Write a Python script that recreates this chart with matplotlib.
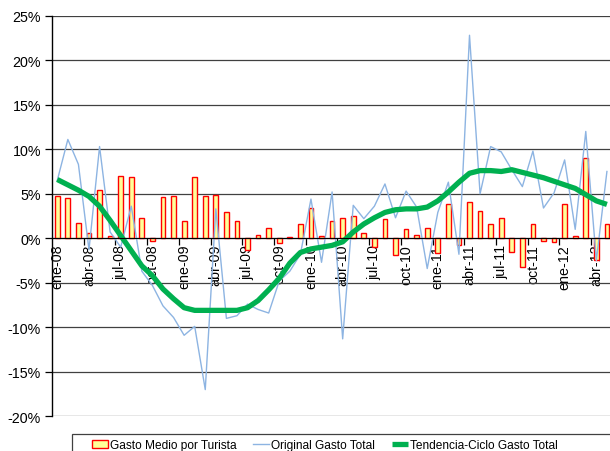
import matplotlib.pyplot as plt
import numpy as np
from matplotlib.patches import Rectangle
from matplotlib.ticker import FixedLocator, FuncFormatter

plt.rcParams['font.family'] = ['Liberation Sans', 'DejaVu Sans']

months = ['ene', 'feb', 'mar', 'abr', 'may', 'jun', 'jul', 'ago', 'sep', 'oct', 'nov', 'dic']
periods = [f"{m}-{y:02d}" for y in range(8, 13) for m in months][:53]

# Gasto Medio por Turista (%)
gasto_medio = [4.8, 4.5, 1.7, 0.6, 5.4, 0.3, 7.0, 6.9, 2.3, -0.3,
               4.6, 4.7, 1.9, 6.9, 4.8, 4.9, 3.0, 1.9, -1.3, 0.4,
               1.2, -0.5, 0.1, 1.6, 3.4, 0.2, 1.9, 2.3, 2.5, 0.6,
               -1.0, 2.2, -1.9, 1.0, 0.4, 1.1, -1.7, 3.9, -0.8, 4.1,
               3.1, 1.6, 2.3, -1.6, -3.2, 1.6, -0.3, -0.4, 3.8, 0.2,
               9.0, -2.4, 1.6]

# Original Gasto Total (%)
original = [6.5, 11.1, 8.3, -1.3, 10.3, 0.7, -1.0, 3.6, -3.7, -5.3,
            -7.6, -8.9, -10.9, -9.9, -17.0, 3.3, -9.0, -8.7, -7.4, -8.0,
            -8.4, -4.8, -3.7, -1.8, 4.4, -2.7, 5.2, -11.3, 3.7, 2.2,
            3.6, 6.1, 2.3, 5.3, 3.5, -3.4, 2.9, 6.3, -1.8, 22.8,
            5.0, 10.3, 9.7, 7.7, 5.8, 9.8, 3.4, 5.1, 8.8, 1.0,
            12.0, -2.5, 7.5]

# Tendencia-Ciclo Gasto Total (%)
tendencia = [6.6, 6.0, 5.4, 4.7, 3.6, 2.0, 0.3, -1.4, -3.1, -4.2,
             -5.7, -6.8, -7.8, -8.1, -8.1, -8.1, -8.1, -8.1, -7.8, -7.0,
             -5.8, -4.5, -2.8, -1.6, -1.2, -1.0, -0.8, -0.4, 0.7, 1.6,
             2.3, 2.9, 3.2, 3.3, 3.3, 3.5, 4.2, 5.2, 6.3, 7.3,
             7.6, 7.6, 7.5, 7.7, 7.4, 7.1, 6.8, 6.4, 6.0, 5.6,
             4.9, 4.2, 3.8]

x = np.arange(len(periods))

fig = plt.figure(figsize=(6.1, 4.52), dpi=100)
ax = fig.add_axes((52 / 610, 34.7 / 452, 560.2 / 610, 400.6 / 452))

for side in ('top', 'right'):
    ax.spines[side].set_visible(False)
ax.spines['bottom'].set_position(('data', 0))
ax.spines['bottom'].set_zorder(6)
ax.spines['left'].set_linewidth(1.0)

bars = ax.bar(x, gasto_medio, width=0.45, color='#FFFF99', edgecolor='#FF0000',
              linewidth=1.0, zorder=3, label='Gasto Medio por Turista')
l1, = ax.plot(x, original, color='#8DB4E2', linewidth=1.0, zorder=4,
              label='Original Gasto Total')
l2, = ax.plot(x, tendencia, color='#00B050', linewidth=3.8, zorder=5,
              solid_capstyle='butt', label='Tendencia-Ciclo Gasto Total')

ax.set_xlim(-0.5, len(periods) - 0.5)
ax.set_ylim(-20, 25)
ax.set_yticks(np.arange(-20, 26, 5))
ax.yaxis.set_major_formatter(FuncFormatter(lambda v, p: f"{v:.0f}%"))
ax.yaxis.grid(True, color='#404040', linewidth=0.9, zorder=0)
ax.set_axisbelow(True)

ax.set_xticks(x[::3])
ax.set_xticklabels(periods[::3])
ax.xaxis.set_minor_locator(FixedLocator(np.arange(2.5, len(periods), 3)))
ax.tick_params(axis='x', which='major', length=0, pad=4, labelsize=10.3,
               labelrotation=90)
ax.tick_params(axis='x', which='minor', length=5, width=0.9, direction='out')
ax.tick_params(axis='y', length=5, width=0.9, direction='out', labelsize=10.3, pad=3)

# legend frame runs off the bottom of the image
fig.patches.append(Rectangle((72 / 610, -0.1), 1.0, (452 - 435) / 452 + 0.1,
                             transform=fig.transFigure, fill=False,
                             edgecolor='#404040', linewidth=0.9))
fig.legend(handles=[bars, l1, l2], loc='center left',
           bbox_to_anchor=(92 / 610, 1 - 446 / 452), ncol=3,
           frameon=False, fontsize=8.6, handlelength=1.35, handletextpad=0.15,
           columnspacing=1.4, borderpad=0, borderaxespad=0)

fig.savefig('out.png', dpi=100)
